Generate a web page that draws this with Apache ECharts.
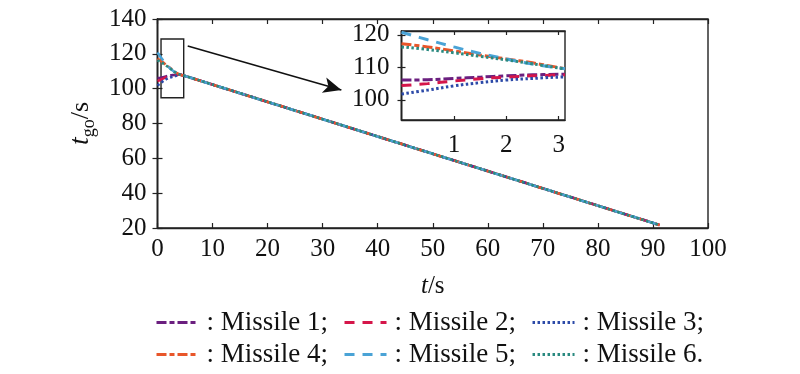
<!DOCTYPE html>
<html>
<head>
<meta charset="utf-8">
<script src="https://cdn.jsdelivr.net/npm/echarts@6/dist/echarts.min.js"></script>
<style>html,body{margin:0;padding:0;background:#fff;}#c{width:800px;height:374px;}</style>
</head>
<body>
<div id="c"></div>
<script>
// ---- data ----
const names = ['Missile 1', 'Missile 2', 'Missile 3', 'Missile 4', 'Missile 5', 'Missile 6'];
const tEarly = [0, 0.5, 1, 1.5, 2, 2.5, 3.12];
const missile1 = [106.1, 106.2, 106.6, 107.0, 107.4, 107.7, 107.9];
const missile2 = [104.4, 105.0, 105.8, 106.5, 107.0, 107.4, 107.7];
const missile3 = [101.8, 103.0, 104.3, 105.3, 106.1, 106.6, 107.1];
const missile4 = [117.3, 116.3, 115.1, 113.8, 112.6, 111.4, 109.6];
const missile5 = [120.8, 118.5, 116.3, 114.3, 112.6, 111.0, 109.6];
const missile6 = [116.3, 115.5, 114.5, 113.4, 112.3, 111.1, 109.5];
const tLate = [4, 5, 91.2];
const commonLate = [108.2, 107.3, 21.7];
const mainXTicks = [0, 10, 20, 30, 40, 50, 60, 70, 80, 90, 100];
const mainYTicks = [20, 40, 60, 80, 100, 120, 140];
const insetXTicks = [1, 2, 3];
const insetYTicks = [100, 110, 120];

const early = [missile1, missile2, missile3, missile4, missile5, missile6];
const colors = ['#6b1f7f', '#d5164a', '#2c4aa8', '#e8562a', '#4aa3d6', '#2a8a80'];
const dashes = [[10, 3, 5, 3], [10, 8], [2.5, 2.5], [10, 3, 5, 3], [10, 8], [2.5, 2.5]];

const FONT = '"Liberation Serif", "Times New Roman", serif';
const zoomBox = [[0.64, 128.5], [4.76, 94.8]];
const arrowFrom = [5.49, 124.5];
const arrowTo = [33.4, 99.2];

function pairs(ts, vs) { return ts.map((t, i) => [t, vs[i]]); }

const series = [];
early.forEach((vals, k) => {
  const s = {
    name: names[k], type: 'line', xAxisIndex: 0, yAxisIndex: 0,
    data: pairs(tEarly, vals).concat(pairs(tLate, commonLate)),
    symbol: 'none', showSymbol: false, smooth: false,
    lineStyle: { color: colors[k], width: 2.6, type: dashes[k] },
    itemStyle: { color: colors[k] }, z: 3, silent: true
  };
  if (k === 0) {
    s.markArea = {
      silent: true,
      itemStyle: { color: 'rgba(0,0,0,0)', borderColor: '#222', borderWidth: 1.4 },
      data: [[{ coord: zoomBox[0] }, { coord: zoomBox[1] }]]
    };
    s.markLine = {
      silent: true, symbol: ['none', 'arrow'], symbolSize: [12, 18],
      lineStyle: { color: '#111', width: 1.6, type: 'solid' },
      label: { show: false },
      data: [[{ coord: arrowFrom }, { coord: arrowTo }]]
    };
  }
  series.push(s);
});
early.forEach((vals, k) => {
  series.push({
    name: names[k], type: 'line', xAxisIndex: 2, yAxisIndex: 2,
    data: pairs(tEarly, vals),
    symbol: 'none', showSymbol: false, smooth: 0.4,
    lineStyle: { color: colors[k], width: 3, type: dashes[k] },
    itemStyle: { color: colors[k] }, z: 20, silent: true
  });
});

const tickLabel = { fontFamily: FONT, fontSize: 25, color: '#111' };
const axisLine = { show: true, lineStyle: { color: '#222', width: 1.4 } };

const legendBase = {
  itemWidth: 42, itemHeight: 14, itemGap: 15,
  itemStyle: { opacity: 0 },
  lineStyle: { width: 3 },
  textStyle: { fontFamily: FONT, fontSize: 27, color: '#111', padding: [0, 0, 0, 3] },
  formatter: n => ': ' + n + (n === 'Missile 6' ? '.' : ';'),
  selectedMode: false
};

const option = {
  animation: false,
  backgroundColor: '#fff',
  legend: [
    Object.assign({}, legendBase, { left: 150, top: 304, data: names.slice(0, 3) }),
    Object.assign({}, legendBase, { left: 150, top: 336, data: names.slice(3, 6) })
  ],
  grid: [
    { left: 157.5, right: 92, top: 19, bottom: 146, show: true, borderColor: '#222', borderWidth: 1.4, backgroundColor: 'transparent' },
    { left: 401.5, right: 235, top: 31, bottom: 254, show: true, borderColor: '#222', borderWidth: 1.4, backgroundColor: '#fff', z: 10 }
  ],
  xAxis: [
    { type: 'value', gridIndex: 0, min: 0, max: 100, interval: 10, position: 'bottom',
      axisLine: axisLine, splitLine: { show: false },
      axisTick: { inside: true, length: 5, lineStyle: { color: '#222', width: 1.2 }, customValues: mainXTicks },
      axisLabel: Object.assign({ margin: 9, customValues: mainXTicks }, tickLabel),
      name: '{i|t}/s', nameLocation: 'middle', nameGap: 46,
      nameTextStyle: { fontFamily: FONT, fontSize: 25, color: '#111', rich: { i: { fontFamily: FONT, fontSize: 25, fontStyle: 'italic', color: '#111' } } } },
    { type: 'value', gridIndex: 0, min: 0, max: 100, interval: 10, position: 'top',
      axisLine: axisLine, splitLine: { show: false },
      axisTick: { inside: true, length: 5, lineStyle: { color: '#222', width: 1.2 }, customValues: mainXTicks },
      axisLabel: { show: false } },
    { type: 'value', gridIndex: 1, min: 0, max: 3.12, position: 'bottom',
      axisLine: axisLine, splitLine: { show: false },
      axisTick: { inside: true, length: 4, lineStyle: { color: '#222', width: 1.2 }, customValues: insetXTicks },
      axisLabel: Object.assign({ margin: 13, customValues: insetXTicks }, tickLabel), z: 10 },
    { type: 'value', gridIndex: 1, min: 0, max: 3.12, position: 'top',
      axisLine: axisLine, splitLine: { show: false },
      axisTick: { inside: true, length: 4, lineStyle: { color: '#222', width: 1.2 }, customValues: insetXTicks },
      axisLabel: { show: false }, z: 10 }
  ],
  yAxis: [
    { type: 'value', gridIndex: 0, min: 20, max: 140, interval: 20, position: 'left',
      axisLine: axisLine, splitLine: { show: false },
      axisTick: { inside: true, length: 5, lineStyle: { color: '#222', width: 1.2 }, customValues: mainYTicks },
      axisLabel: Object.assign({ margin: 11, customValues: mainYTicks }, tickLabel),
      name: '{i|t}{s|go}/s', nameLocation: 'middle', nameGap: 47, nameRotate: 90,
      nameTextStyle: { fontFamily: FONT, fontSize: 26, color: '#111',
        rich: { i: { fontFamily: FONT, fontSize: 28, fontStyle: 'italic', color: '#111' },
                s: { fontFamily: FONT, fontSize: 18, color: '#111', verticalAlign: 'bottom', padding: [16, 0, 0, 0] } } } },
    { type: 'value', gridIndex: 0, min: 20, max: 140, interval: 20, position: 'right',
      axisLine: axisLine, splitLine: { show: false },
      axisTick: { inside: true, length: 5, lineStyle: { color: '#222', width: 1.2 }, customValues: mainYTicks },
      axisLabel: { show: false } },
    { type: 'value', gridIndex: 1, min: 93.8, max: 121.2, position: 'left',
      axisLine: axisLine, splitLine: { show: false },
      axisTick: { inside: true, length: 4, lineStyle: { color: '#222', width: 1.2 }, customValues: insetYTicks },
      axisLabel: Object.assign({ margin: 12, customValues: insetYTicks }, tickLabel), z: 10 },
    { type: 'value', gridIndex: 1, min: 93.8, max: 121.2, position: 'right',
      axisLine: axisLine, splitLine: { show: false },
      axisTick: { inside: true, length: 4, lineStyle: { color: '#222', width: 1.2 }, customValues: insetYTicks },
      axisLabel: { show: false }, z: 10 }
  ],
  series: series
};

const chart = echarts.init(document.getElementById('c'), null, { renderer: 'canvas' });
chart.setOption(option);
</script>
</body>
</html>
